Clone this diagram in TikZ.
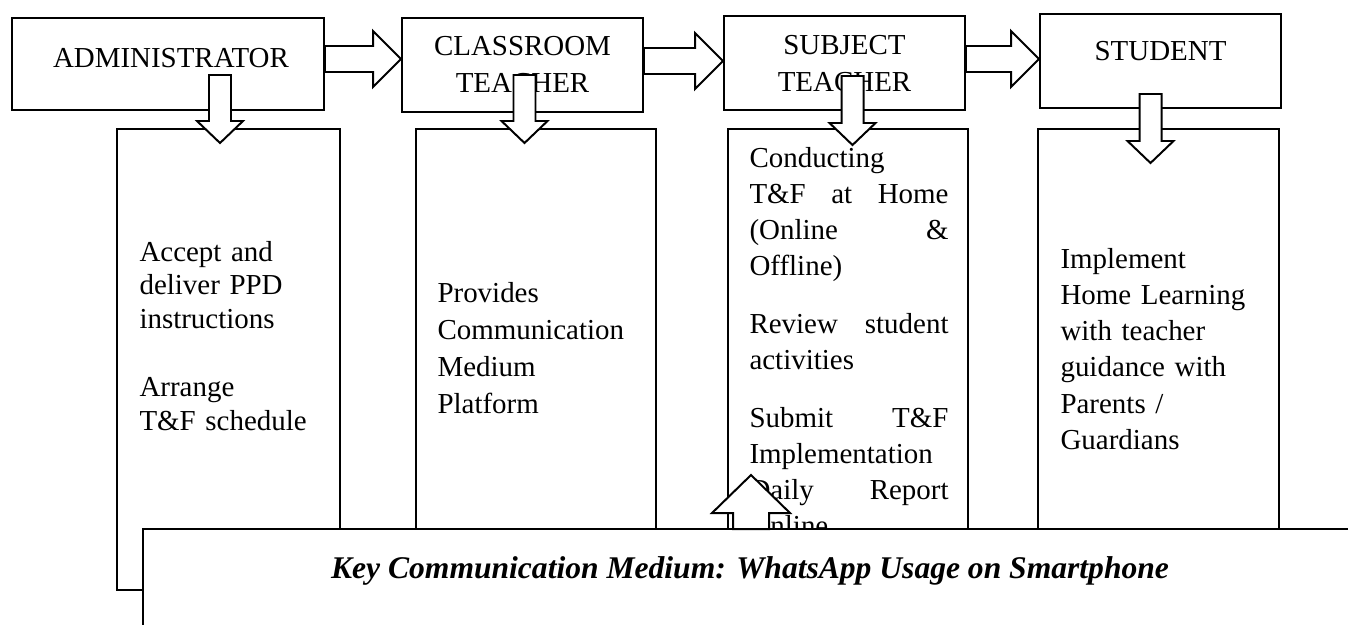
\documentclass[tikz,border=0pt]{standalone}
\usepackage{fontspec}
\setmainfont{Liberation Serif}
\usetikzlibrary{calc}

\def\pxs{0.38pt}
\newcommand\jline[1]{\leavevmode\hbox to 75.62pt{#1}}
\newcommand\rarrow[3]{%
  \coordinate (mid) at (0,#3);
  \draw[blockarr] ($(#1.east |- mid)+(0,-13)$) -- ($(#2.west |- mid)+(-28,-13)$)
    -- ($(#2.west |- mid)+(-28,-28)$) -- (#2.west |- mid)
    -- ($(#2.west |- mid)+(-28,28)$) -- ($(#2.west |- mid)+(-28,13)$)
    -- ($(#1.east |- mid)+(0,13)$) -- cycle;}
\newcommand\darrow[3]{%
  \draw[blockarr] (#1-11,#2) -- (#1+11,#2) -- (#1+11,#3-22) -- (#1+23,#3-22)
    -- (#1,#3) -- (#1-23,#3-22) -- (#1-11,#3-22) -- cycle;}

\begin{document}
\begin{tikzpicture}[x=0.38pt,y=-0.38pt,
    box/.style={draw,line width=0.75pt,inner sep=0pt,fill=white},
    title/.style={anchor=base,align=center,inner sep=0pt,text width=230*\pxs,
                  font=\fontsize{11}{14.06}\selectfont},
    body/.style={anchor=base west,align=left,inner sep=0pt},
    blockarr/.style={draw,line width=0.75pt,fill=white,line join=miter}]
  \useasboundingbox (0,0) rectangle (1348,624);

  \node[box,minimum width=312*\pxs,minimum height=92*\pxs] (adm) at (168,64) {};
  \node[box,minimum width=241*\pxs,minimum height=94*\pxs] (cls) at (522.5,65) {};
  \node[box,minimum width=241*\pxs,minimum height=94*\pxs] (sub) at (844.5,63) {};
  \node[box,minimum width=241*\pxs,minimum height=94*\pxs] (stu) at (1160.5,61) {};
  \node[title] (admlbl) at (168,67) {ADMINISTRATOR};
  \node[title] (clslbl) at (522.5,55) {CLASSROOM\\TEACHER};
  \node[title] (sublbl) at (844.5,54) {SUBJECT\\TEACHER};
  \node[title] (stulbl) at (1160.5,60) {STUDENT};

  \node[box,minimum width=223*\pxs,minimum height=461*\pxs] (admcol) at (228.5,359.5) {};
  \node[box,minimum width=240*\pxs,minimum height=461*\pxs] (clscol) at (536,359.5) {};
  \node[box,minimum width=240*\pxs,minimum height=461*\pxs] (subcol) at (848,359.5) {};
  \node[box,minimum width=241*\pxs,minimum height=461*\pxs] (stucol) at (1158.5,359.5) {};

  \node[body,text width=195*\pxs,font=\fontsize{11}{12.9}\selectfont] (admtxt) at (139,261)
    {Accept and\\deliver PPD\\instructions\\[12.9pt]Arrange\\T\&F schedule};
  \node[body,text width=210*\pxs,font=\fontsize{11}{14.06}\selectfont] (clstxt) at (437,302)
    {Provides\\Communication\\Medium\\Platform};
  \node[body,text width=199*\pxs,font=\fontsize{11}{13.68}\selectfont] (subtxt) at (749,167)
    {Conducting\\
     \jline{T\&F\hfill at\hfill Home}\\
     \jline{(Online\hfill \&}\\
     Offline)\\[8.4pt]
     \jline{Review\hfill student}\\
     activities\\[8.4pt]
     \jline{Submit\hfill T\&F}\\
     Implementation\\
     \jline{Daily\hfill Report}\\
     Online};
  \node[body,text width=205*\pxs,font=\fontsize{11}{13.8}\selectfont] (stutxt) at (1060,268)
    {Implement\\Home Learning\\with teacher\\guidance with\\Parents /\\Guardians};

  \rarrow{adm}{cls}{59}
  \rarrow{cls}{sub}{61}
  \rarrow{sub}{stu}{59}

  \darrow{220}{75}{143}
  \darrow{524.5}{75}{143}
  \darrow{852.5}{76}{145}
  \darrow{1150.5}{94}{163}

  \node[box,minimum width=1217*\pxs,minimum height=111*\pxs] (key) at (751.5,584.5) {};
  \node[anchor=base,inner sep=0pt,font=\fontsize{12}{14}\selectfont\bfseries\itshape] (keytxt) at (750,578)
    {Key Communication Medium: WhatsApp Usage on Smartphone};

  \draw[blockarr] (733,529) -- (733,513) -- (712,513) -- (751,475) -- (790,513)
    -- (769,513) -- (769,529) -- cycle;
\end{tikzpicture}
\end{document}
